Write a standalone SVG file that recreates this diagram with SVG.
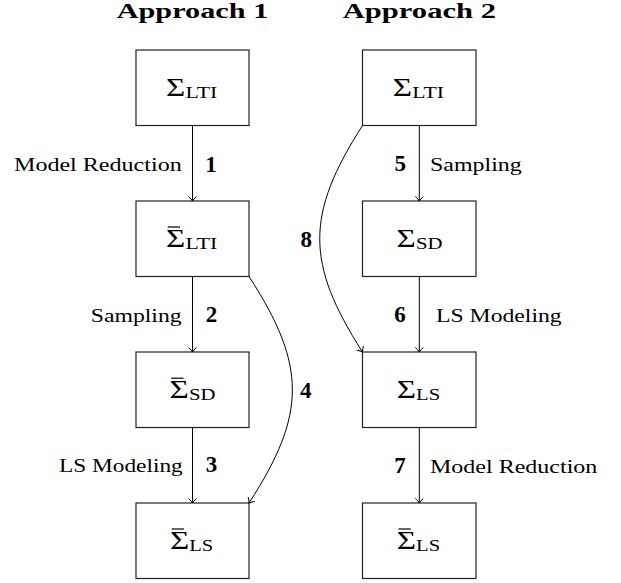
<svg xmlns="http://www.w3.org/2000/svg" width="621" height="583" viewBox="0 0 621 583">
<style>
.box{fill:#fff;stroke:#222;stroke-width:1.2}
.edge{fill:none;stroke:#000;stroke-width:1}
.title{font-family:"Liberation Serif",serif;font-weight:bold;font-size:21px;fill:#000}
.sig{font-family:"Liberation Serif",serif;font-size:25px;fill:#000}
.sub{font-family:"Liberation Serif",serif;font-size:16px;fill:#000}
.lab{font-family:"Liberation Serif",serif;font-size:18.5px;fill:#000}
.num{font-family:"Liberation Serif",serif;font-weight:bold;font-size:23px;fill:#000;text-anchor:middle}
.bar{stroke:#000;stroke-width:1.2}
</style>
<defs>
<marker id="arr" markerUnits="userSpaceOnUse" markerWidth="10" markerHeight="10" refX="0" refY="0" orient="auto" overflow="visible">
<path d="M-4.5,-4 Q-1.8,-1 0,0 Q-1.8,1 -4.5,4" fill="none" stroke="#000" stroke-width="1"/>
</marker>
</defs>
<text class="title" x="116.7" y="18.3" textLength="151.6" lengthAdjust="spacingAndGlyphs">Approach 1</text>
<text class="title" x="342.7" y="18.3" textLength="153.3" lengthAdjust="spacingAndGlyphs">Approach 2</text>

<g id="A1">
<rect class="box" x="136" y="50" width="113" height="75.5"/>
<text class="sig" x="166" y="96" textLength="19.3" lengthAdjust="spacingAndGlyphs">Σ</text><text class="sub" x="185.5" y="97.5" textLength="31.8" lengthAdjust="spacingAndGlyphs">LTI</text>
</g>
<g id="A2">
<rect class="box" x="136" y="201" width="113" height="75.5"/>
<line class="bar" x1="167.7" y1="227" x2="180" y2="227"/>
<text class="sig" x="166" y="247" textLength="19.3" lengthAdjust="spacingAndGlyphs">Σ</text><text class="sub" x="185.5" y="248.5" textLength="31.8" lengthAdjust="spacingAndGlyphs">LTI</text>
</g>
<g id="A3">
<rect class="box" x="136" y="352" width="113" height="75.5"/>
<line class="bar" x1="171.2" y1="378.2" x2="183.5" y2="378.2"/>
<text class="sig" x="169.5" y="398" textLength="19.3" lengthAdjust="spacingAndGlyphs">Σ</text><text class="sub" x="189" y="399.5" textLength="26.5" lengthAdjust="spacingAndGlyphs">SD</text>
</g>
<g id="A4">
<rect class="box" x="136" y="503" width="113" height="75.5"/>
<line class="bar" x1="171.7" y1="529" x2="184" y2="529"/>
<text class="sig" x="170" y="549" textLength="19.3" lengthAdjust="spacingAndGlyphs">Σ</text><text class="sub" x="189.3" y="550.5" textLength="24" lengthAdjust="spacingAndGlyphs">LS</text>
</g>

<g id="B1">
<rect class="box" x="362.5" y="50" width="113.5" height="75.5"/>
<text class="sig" x="392.8" y="96" textLength="19.3" lengthAdjust="spacingAndGlyphs">Σ</text><text class="sub" x="412.3" y="97.5" textLength="31.8" lengthAdjust="spacingAndGlyphs">LTI</text>
</g>
<g id="B2">
<rect class="box" x="362.5" y="201" width="113.5" height="75.5"/>
<text class="sig" x="396.4" y="247" textLength="19.3" lengthAdjust="spacingAndGlyphs">Σ</text><text class="sub" x="415.9" y="248.5" textLength="26.5" lengthAdjust="spacingAndGlyphs">SD</text>
</g>
<g id="B3">
<rect class="box" x="362.5" y="352" width="113.5" height="75.5"/>
<text class="sig" x="396.8" y="398" textLength="19.3" lengthAdjust="spacingAndGlyphs">Σ</text><text class="sub" x="416.1" y="399.5" textLength="24" lengthAdjust="spacingAndGlyphs">LS</text>
</g>
<g id="B4">
<rect class="box" x="362.5" y="503" width="113.5" height="75.5"/>
<line class="bar" x1="398.5" y1="529" x2="410.8" y2="529"/>
<text class="sig" x="396.8" y="549" textLength="19.3" lengthAdjust="spacingAndGlyphs">Σ</text><text class="sub" x="416.1" y="550.5" textLength="24" lengthAdjust="spacingAndGlyphs">LS</text>
</g>

<g id="connectors">
<line class="edge" x1="192.5" y1="125.5" x2="192.5" y2="201" marker-end="url(#arr)"/>
<line class="edge" x1="192.5" y1="276.5" x2="192.5" y2="352" marker-end="url(#arr)"/>
<line class="edge" x1="192.5" y1="427.5" x2="192.5" y2="503" marker-end="url(#arr)"/>
<path class="edge" d="M249,276.5 C306.8,365.5 306.8,414 249,503" marker-end="url(#arr)"/>
<line class="edge" x1="419.3" y1="125.5" x2="419.3" y2="201" marker-end="url(#arr)"/>
<line class="edge" x1="419.3" y1="276.5" x2="419.3" y2="352" marker-end="url(#arr)"/>
<line class="edge" x1="419.3" y1="427.5" x2="419.3" y2="503" marker-end="url(#arr)"/>
<path class="edge" d="M362.5,125.5 C305.5,214.5 305.5,263 362.5,352" marker-end="url(#arr)"/>

<text class="lab" x="14" y="171" textLength="167.7" lengthAdjust="spacingAndGlyphs">Model Reduction</text>
<text class="num" x="211" y="171.7">1</text>
<text class="lab" x="90.7" y="321.7" textLength="91" lengthAdjust="spacingAndGlyphs">Sampling</text>
<text class="num" x="211.5" y="321.7">2</text>
<text class="lab" x="59" y="471.7" textLength="123.7" lengthAdjust="spacingAndGlyphs">LS Modeling</text>
<text class="num" x="211.5" y="472">3</text>
<text class="num" x="305.8" y="398.3">4</text>
<text class="num" x="400.3" y="170.7">5</text>
<text class="lab" x="430" y="170.7" textLength="91.7" lengthAdjust="spacingAndGlyphs">Sampling</text>
<text class="num" x="400" y="321.7">6</text>
<text class="lab" x="436" y="321.7" textLength="125.7" lengthAdjust="spacingAndGlyphs">LS Modeling</text>
<text class="num" x="400" y="473.3">7</text>
<text class="lab" x="430" y="472.7" textLength="167.3" lengthAdjust="spacingAndGlyphs">Model Reduction</text>
<text class="num" x="306.3" y="247.3">8</text>
</g>
</svg>
